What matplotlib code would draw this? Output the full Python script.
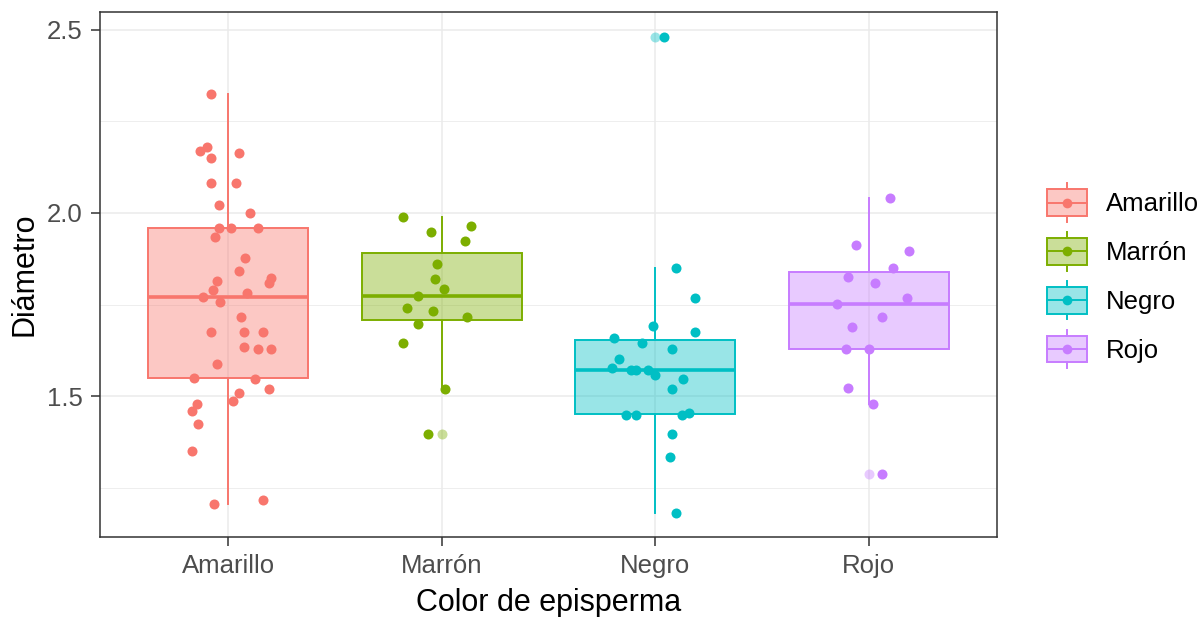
#!/usr/bin/env python3

""" Boxplot with jittered points: Diámetro por color de episperma """

import matplotlib
matplotlib.use("Agg")
import matplotlib.pyplot as plt
from matplotlib.patches import Rectangle, Patch
from matplotlib.lines import Line2D
from matplotlib.legend_handler import HandlerBase
from matplotlib.colors import to_rgba

categories = ["Amarillo", "Marrón", "Negro", "Rojo"]
colors = ["#F8766D", "#7CAE00", "#00BFC4", "#C77CFF"]

# values, with the horizontal jitter of each point
amarillo = [2.325, 2.181, 2.169, 2.150, 2.163, 2.081, 2.081, 2.023, 1.999, 1.960,
            1.960, 1.960, 1.935, 1.878, 1.842, 1.822, 1.808, 1.815, 1.791, 1.770,
            1.782, 1.756, 1.715, 1.674, 1.674, 1.674, 1.635, 1.628, 1.628, 1.587,
            1.548, 1.547, 1.518, 1.507, 1.487, 1.478, 1.459, 1.425, 1.350, 1.205,
            1.216]
amarillo_jit = [-0.080, -0.098, -0.130, -0.080, 0.050, -0.080, 0.039, -0.041, 0.102, -0.041,
                0.014, 0.141, -0.060, 0.080, 0.050, 0.201, 0.189, -0.050, -0.069, -0.119,
                0.089, -0.039, 0.061, -0.080, 0.072, 0.161, 0.072, 0.141, 0.201, -0.050,
                -0.158, 0.128, 0.191, 0.050, 0.022, -0.147, -0.170, -0.139, -0.170, -0.067,
                0.161]

marron = [1.988, 1.947, 1.965, 1.923, 1.861, 1.820, 1.792, 1.773, 1.740, 1.733,
          1.717, 1.698, 1.646, 1.518, 1.395]
marron_jit = [-0.181, -0.052, 0.139, 0.108, -0.022, -0.031, 0.009, -0.109, -0.161, -0.040,
              0.119, -0.109, -0.181, 0.017, -0.062]

negro = [2.482, 1.849, 1.769, 1.692, 1.674, 1.658, 1.646, 1.628, 1.600, 1.576,
         1.571, 1.571, 1.571, 1.557, 1.546, 1.518, 1.448, 1.448, 1.448, 1.454,
         1.395, 1.333, 1.181]
negro_jit = [0.039, 0.095, 0.186, -0.011, 0.186, -0.192, -0.061, 0.078, -0.170, -0.203,
             -0.112, -0.090, -0.033, -0.003, 0.128, 0.078, -0.136, -0.090, 0.125, 0.159,
             0.078, 0.069, 0.095]

rojo = [2.040, 1.913, 1.895, 1.849, 1.826, 1.808, 1.768, 1.751, 1.716, 1.688,
        1.628, 1.628, 1.523, 1.477, 1.286]
rojo_jit = [0.100, -0.058, 0.189, 0.111, -0.100, 0.031, 0.180, -0.148, 0.060, -0.078,
            -0.108, 0.000, -0.100, 0.021, 0.063]

values = [amarillo, marron, negro, rojo]
jitters = [amarillo_jit, marron_jit, negro_jit, rojo_jit]


class BoxKeyHandler(HandlerBase):
    """ ggplot-like legend key: box, median, whiskers and a point """

    def create_artists(self, legend, orig_handle, xdescent, ydescent,
                       width, height, fontsize, trans):
        c = orig_handle.get_edgecolor()
        x0, y0 = -xdescent, -ydescent
        ext = height * 0.22
        box = Rectangle((x0, y0), width, height, facecolor=to_rgba(c, 0.4),
                        edgecolor=c, linewidth=1.4, transform=trans)
        mid = Line2D([x0, x0 + width], [y0 + height / 2] * 2, color=c,
                     linewidth=1.4, transform=trans)
        cx = x0 + width / 2
        top = Line2D([cx, cx], [y0 + height, y0 + height + ext], color=c,
                     linewidth=1.4, transform=trans)
        bot = Line2D([cx, cx], [y0 - ext, y0], color=c, linewidth=1.4,
                     transform=trans)
        dot = Line2D([cx], [y0 + height / 2], marker="o", markersize=7.0,
                     markerfacecolor=c, markeredgecolor="none", linestyle="none",
                     transform=trans)
        return [box, mid, top, bot, dot]


plt.rcParams["font.family"] = ["Liberation Sans", "DejaVu Sans"]

fig = plt.figure(figsize=(12.04, 6.17), dpi=100)
ax = fig.add_axes([100 / 1204, 80 / 617, 897 / 1204, 525 / 617])

positions = list(range(1, len(categories) + 1))
bp = ax.boxplot(values, positions=positions, widths=0.75, patch_artist=True,
                whis=1.5, showcaps=False, manage_ticks=False, zorder=2)
for i, c in enumerate(colors):
    bp["boxes"][i].set(facecolor=to_rgba(c, 0.4), edgecolor=c, linewidth=1.4)
    bp["medians"][i].set(color=c, linewidth=2.6, solid_capstyle="butt")
    for w in bp["whiskers"][2 * i:2 * i + 2]:
        w.set(color=c, linewidth=1.4)
    bp["fliers"][i].set(marker="o", markerfacecolor=c, markeredgecolor="none",
                        alpha=0.4, markersize=7.2)

for i, c in enumerate(colors):
    xs = [positions[i] + j for j in jitters[i]]
    ax.scatter(xs, values[i], s=52, color=c, linewidths=0, zorder=3)

ax.set_xlim(0.4, 4.6)
ax.set_ylim(1.115, 2.549)
ax.set_xticks(positions)
ax.set_xticklabels(categories)
ax.set_yticks([1.5, 2.0, 2.5])
ax.set_yticks([1.25, 1.75, 2.25], minor=True)

ax.set_axisbelow(True)
ax.grid(True, which="major", color="#EBEBEB", linewidth=1.1)
ax.grid(True, which="minor", axis="y", color="#EBEBEB", linewidth=0.6)
for s in ax.spines.values():
    s.set_color("#333333")
    s.set_linewidth(1.1)
ax.tick_params(which="major", length=6.5, width=1.1, color="#333333",
               labelcolor="#4D4D4D", labelsize=18.5)
ax.tick_params(axis="x", pad=6)
ax.tick_params(axis="y", pad=6)
ax.tick_params(which="minor", length=0)

ax.set_xlabel("Color de episperma", fontsize=22, labelpad=7)
ax.set_ylabel("Diámetro", fontsize=22, labelpad=5)

handles = [Patch(facecolor=c, edgecolor=c) for c in colors]
fig.legend(handles, categories, handler_map={Patch: BoxKeyHandler()},
           loc="center left", bbox_to_anchor=(1047 / 1204, 1 - 276 / 617),
           bbox_transform=fig.transFigure, frameon=False, fontsize=18.5,
           borderpad=0, borderaxespad=0, handlelength=1.54, handleheight=1.22,
           handletextpad=0.75, labelspacing=0.85)

fig.savefig("out.png", dpi=100)
